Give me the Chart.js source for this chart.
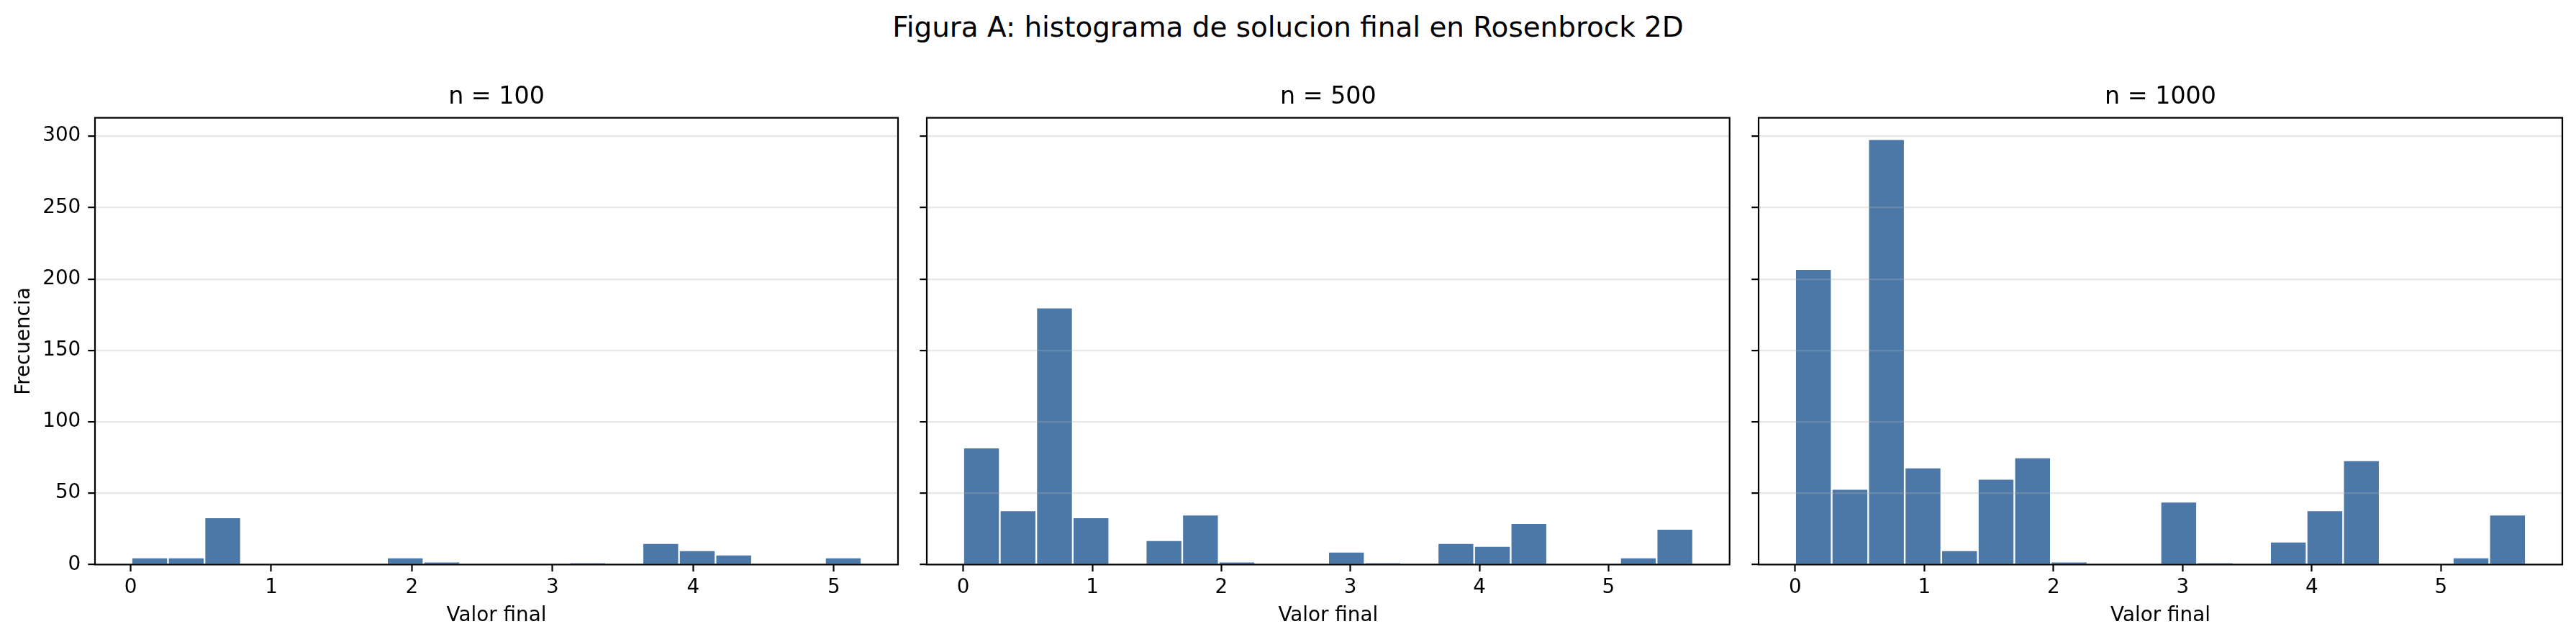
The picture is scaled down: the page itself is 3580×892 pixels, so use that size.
<!DOCTYPE html>
<html>
<head>
<meta charset="utf-8">
<script src="https://cdn.jsdelivr.net/npm/chart.js@4/dist/chart.umd.min.js"></script>
<style>
  body { margin: 0; background: #fff; width: 3580px; height: 892px; overflow: hidden; position: relative; font-family: "DejaVu Sans"; }
  #sup { position: absolute; left: 0; top: 15px; width: 3580px; line-height: 46px; text-align: center; font-size: 38.9px; color: #000; }
  canvas { position: absolute; top: 0; }
</style>
</head>
<body>
<div id="sup">Figura A: histograma de solucion final en Rosenbrock 2D</div>
<canvas id="c100" width="1258" height="892" style="left:0px"></canvas>
<canvas id="c500" width="1156" height="892" style="left:1258px"></canvas>
<canvas id="c1000" width="1166" height="892" style="left:2414px"></canvas>
<script>
// histogram counts, 20 bins each
const counts100 = [5, 5, 33, 0, 0, 0, 0, 5, 2, 0, 0, 0, 1, 0, 15, 10, 7, 0, 0, 5];
const counts500 = [82, 38, 180, 33, 0, 17, 35, 2, 0, 0, 9, 1, 0, 15, 13, 29, 0, 0, 5, 25];
const counts1000 = [207, 53, 298, 68, 10, 60, 75, 2, 0, 0, 44, 1, 0, 16, 38, 73, 0, 0, 5, 35];

// data range (first and last bin edge) of each panel
const range100 = [0.006, 5.197];
const range500 = [0, 5.656];
const range1000 = [0, 5.656];

const xTicks = [0, 1, 2, 3, 4, 5];
const yTicks = [0, 50, 100, 150, 200, 250, 300];
const yMax = 312.9;

const FONT = 'DejaVu Sans';

const framePlugin = {
  id: 'frame',
  afterDraw(chart) {
    const { ctx, chartArea: a } = chart;
    ctx.save();
    ctx.strokeStyle = '#000';
    ctx.lineWidth = 2.2;
    ctx.strokeRect(a.left, a.top, a.right - a.left, a.bottom - a.top);
    ctx.restore();
  }
};

function makePanel(id, title, counts, range, opts) {
  const w = (range[1] - range[0]) / counts.length;
  const span = range[1] - range[0];
  const data = counts.map((c, i) => ({ x: range[0] + (i + 0.5) * w, y: c }));

  new Chart(document.getElementById(id), {
    type: 'bar',
    data: {
      datasets: [{
        data: data,
        backgroundColor: '#4c78a8',
        borderColor: '#ffffff',
        borderWidth: 1.5,
        barPercentage: 1,
        categoryPercentage: 1
      }]
    },
    options: {
      responsive: false,
      animation: false,
      events: [],
      layout: { padding: { top: 0, left: 0, bottom: 7.6, right: opts.padRight } },
      plugins: {
        legend: { display: false },
        tooltip: { enabled: false },
        title: {
          display: true,
          fullSize: false,
          text: title,
          color: '#000',
          font: { family: FONT, size: 33.3, weight: 'normal' },
          padding: { top: 115, bottom: 8.7 }
        }
      },
      scales: {
        x: {
          type: 'linear',
          min: range[0] - 0.05 * span,
          max: range[1] + 0.05 * span,
          offset: false,
          afterBuildTicks: s => { s.ticks = xTicks.map(v => ({ value: v })); },
          afterFit: s => { s.height = 100; },
          grid: {
            display: true, drawOnChartArea: false, drawTicks: true, offset: false,
            tickLength: 9.7, tickWidth: 2.2, tickColor: '#000'
          },
          border: { display: false },
          ticks: { color: '#000', font: { family: FONT, size: 27.8 }, padding: 6, maxRotation: 0, autoSkip: false },
          title: {
            display: true, text: 'Valor final', color: '#000',
            font: { family: FONT, size: 27.8 }, padding: { top: 0, bottom: 11.7 }
          }
        },
        y: {
          type: 'linear',
          min: 0,
          max: yMax,
          bounds: 'data',
          afterBuildTicks: s => { s.ticks = yTicks.map(v => ({ value: v })); },
          afterFit: s => { s.width = opts.yWidth; },
          grid: {
            color: 'rgba(176,176,176,0.3)', lineWidth: 2.2, z: 1,
            drawTicks: true, tickLength: 9.7, tickWidth: 2.2, tickColor: '#000'
          },
          border: { display: false },
          ticks: { display: opts.showY, color: '#000', font: { family: FONT, size: 27.8 }, padding: 10 },
          title: {
            display: opts.showY, text: 'Frecuencia', color: '#000',
            font: { family: FONT, size: 27.8 }, padding: { top: 16.8, bottom: 0 }
          }
        }
      }
    },
    plugins: [framePlugin]
  });
}

makePanel('c100', 'n = 100', counts100, range100, { yWidth: 132, padRight: 10, showY: true });
makePanel('c500', 'n = 500', counts500, range500, { yWidth: 30, padRight: 10.3, showY: false });
makePanel('c1000', 'n = 1000', counts1000, range1000, { yWidth: 30, padRight: 19, showY: false });
</script>
</body>
</html>
